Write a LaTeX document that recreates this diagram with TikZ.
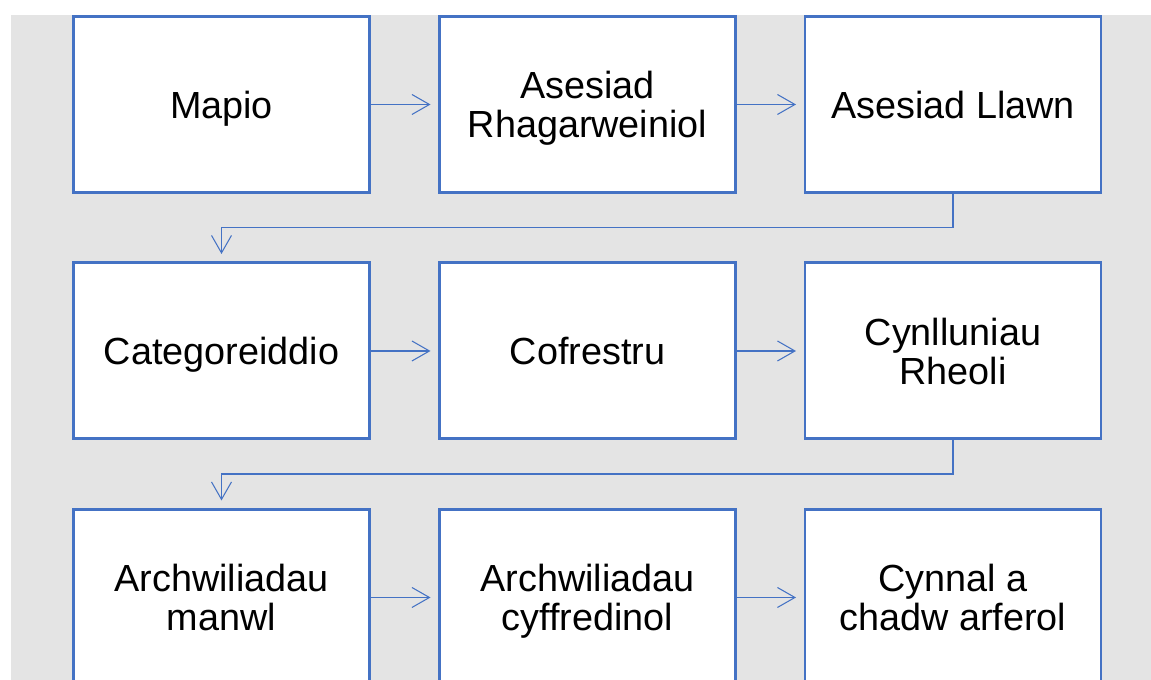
\documentclass[tikz,border=0pt]{standalone}
\usepackage{fontspec}
\setmainfont{Liberation Sans}
\usetikzlibrary{arrows.meta}
\definecolor{boxblue}{HTML}{4472C4}
\definecolor{bggray}{HTML}{E4E4E4}

\begin{document}
\begin{tikzpicture}
  [every node/.style={draw=boxblue,line width=1.7pt,fill=white,minimum width=5.92cm,minimum height=3.52cm,inner sep=0pt,align=center,text depth=0pt,font=\fontsize{21.5}{22}\selectfont},
   flow/.style={draw=boxblue,line width=0.6pt,-{Straight Barb[length=0.35cm,width=0.4cm]},shorten >=0.15cm}]
  \useasboundingbox (0,0) rectangle (23.02,13.6);
  \clip (0,0) rectangle (23.02,13.6);
  \fill[bggray] (0.22,0) rectangle (23.02,13.3);
  \node (nmap) at (4.43,11.51) {Mapio};
  \node (npre) at (11.75,11.51) {Asesiad\\Rhagarweiniol};
  \node (nfull) at (19.06,11.51) {Asesiad Llawn};
  \node (ncat) at (4.43,6.58) {Categoreiddio};
  \node (nreg) at (11.75,6.58) {Cofrestru};
  \node (nplan) at (19.06,6.58) {Cynlluniau\\Rheoli};
  \node (ndet) at (4.43,1.65) {Archwiliadau\\manwl};
  \node (nrout) at (11.75,1.65) {Archwiliadau\\cyffredinol};
  \node (nkeep) at (19.06,1.65) {Cynnal a\\chadw arferol};
    \foreach \from/\to in {nmap/npre,npre/nfull,ncat/nreg,nreg/nplan,ndet/nrout,nrout/nkeep}
    \draw[flow] (\from) -- (\to);
  \draw[flow] (nfull.south) -- ++(0,-0.67) -| (ncat.north);
  \draw[flow] (nplan.south) -- ++(0,-0.67) -| (ndet.north);
\end{tikzpicture}
\end{document}
